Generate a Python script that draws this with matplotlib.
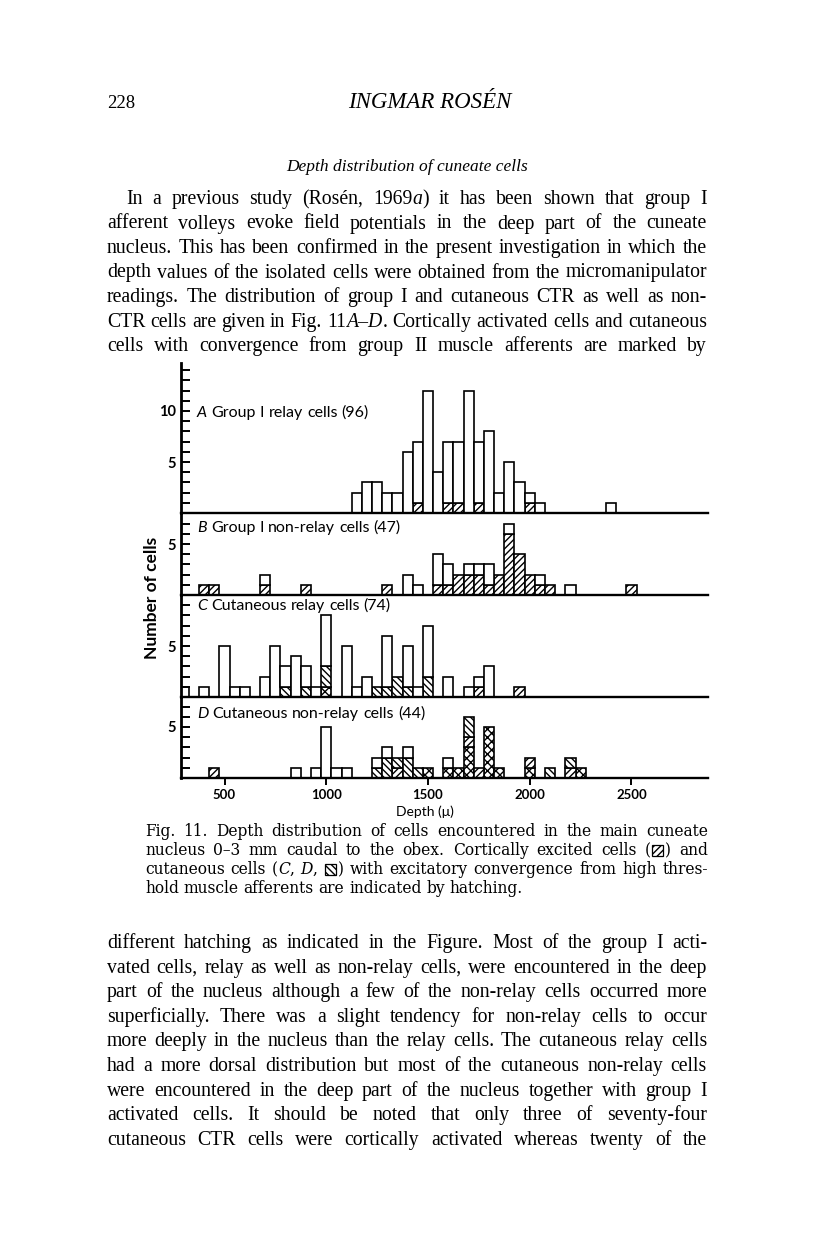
import re
import numpy as np
import matplotlib
matplotlib.use('Agg')
import matplotlib.pyplot as plt
from matplotlib.patches import Rectangle

# depth bins (micron, bin centres, 50 micron wide) and cell counts per hatch class
depth_a = [1150, 1200, 1250, 1300, 1350, 1400, 1450, 1500, 1550, 1600,
           1650, 1700, 1750, 1800, 1850, 1900, 1950, 2000, 2050, 2400]
open_a = [2, 3, 3, 2, 2, 6, 6, 12, 4, 6, 6, 12, 6, 8, 2, 5, 3, 1, 1, 1]
cort_a = [0, 0, 0, 0, 0, 0, 1, 0, 0, 1, 1, 0, 1, 0, 0, 0, 0, 1, 0, 0]

depth_b = [400, 450, 700, 900, 1300, 1400, 1450, 1550, 1600, 1650, 1700,
           1750, 1800, 1850, 1900, 1950, 2000, 2050, 2100, 2200, 2500]
open_b = [0, 0, 1, 0, 0, 2, 1, 3, 2, 0, 1, 1, 2, 0, 1, 0, 0, 1, 0, 1, 0]
cort_b = [1, 1, 1, 1, 1, 0, 0, 1, 1, 2, 2, 2, 1, 2, 6, 4, 2, 1, 1, 0, 1]

depth_c = [300, 400, 500, 550, 600, 700, 750, 800, 850, 900, 950, 1000, 1100,
           1150, 1200, 1250, 1300, 1350, 1400, 1450, 1500, 1600, 1700, 1750, 1800, 1950]
open_c = [1, 1, 5, 1, 1, 2, 5, 2, 4, 2, 1, 5, 5, 1, 2, 0, 5, 0, 4, 1, 5, 2, 1, 1, 3, 0]
conv_c = [0, 0, 0, 0, 0, 0, 0, 1, 0, 1, 0, 2, 0, 0, 0, 1, 1, 2, 1, 0, 2, 0, 0, 0, 0, 0]
cort_c = [0, 0, 0, 0, 0, 0, 0, 0, 0, 0, 0, 0, 0, 0, 0, 0, 0, 0, 0, 0, 0, 0, 0, 1, 0, 1]
both_c = [0, 0, 0, 0, 0, 0, 0, 0, 0, 0, 0, 1, 0, 0, 0, 0, 0, 0, 0, 0, 0, 0, 0, 0, 0, 0]

depth_d = [450, 850, 950, 1000, 1050, 1100, 1250, 1300, 1350, 1400, 1450,
           1500, 1600, 1650, 1700, 1750, 1800, 1850, 2000, 2100, 2200, 2250]
open_d = [0, 1, 1, 5, 1, 1, 1, 1, 0, 1, 0, 0, 1, 0, 0, 0, 0, 0, 0, 0, 0, 0]
conv_d = [0, 0, 0, 0, 0, 0, 1, 2, 1, 2, 1, 0, 0, 0, 2, 0, 0, 0, 0, 1, 1, 0]
cort_d = [1, 0, 0, 0, 0, 0, 0, 0, 1, 0, 0, 0, 0, 0, 1, 1, 0, 0, 1, 0, 1, 0]
both_d = [0, 0, 0, 0, 0, 0, 0, 0, 0, 0, 0, 1, 1, 1, 3, 0, 5, 1, 1, 0, 0, 1]

panel_titles = [('A', 'Group I relay cells (96)'),
                ('B', 'Group I non-relay cells (47)'),
                ('C', 'Cutaneous relay cells (74)'),
                ('D', 'Cutaneous non-relay cells (44)')]
depth_ticks = [500, 1000, 1500, 2000, 2500]

para1 = ["In a previous study (Rosén, 1969_a_) it has been shown that group I",
         "afferent volleys evoke field potentials in the deep part of the cuneate",
         "nucleus. This has been confirmed in the present investigation in which the",
         "depth values of the isolated cells were obtained from the micromanipulator",
         "readings. The distribution of group I and cutaneous CTR as well as non-",
         "CTR cells are given in Fig. 11_A–D_. Cortically activated cells and cutaneous",
         "cells with convergence from group II muscle afferents are marked by"]
caption = ["Fig. 11. Depth distribution of cells encountered in the main cuneate",
           "nucleus 0–3 mm caudal to the obex. Cortically excited cells ([/]) and",
           "cutaneous cells (_C_, _D_, [\\]) with excitatory convergence from high thres-",
           "hold muscle afferents are indicated by hatching."]
para2 = ["different hatching as indicated in the Figure. Most of the group I acti-",
         "vated cells, relay as well as non-relay cells, were encountered in the deep",
         "part of the nucleus although a few of the non-relay cells occurred more",
         "superficially. There was a slight tendency for non-relay cells to occur",
         "more deeply in the nucleus than the relay cells. The cutaneous relay cells",
         "had a more dorsal distribution but most of the cutaneous non-relay cells",
         "were encountered in the deep part of the nucleus together with group I",
         "activated cells. It should be noted that only three of seventy-four",
         "cutaneous CTR cells were cortically activated whereas twenty of the"]

W, H = 816, 1255
plt.rcParams['hatch.linewidth'] = 1.0
SERIF = ['Liberation Serif', 'DejaVu Serif']
CAPF = ['DejaVu Serif']
SANS = ['Lato', 'DejaVu Sans']
HATCH = {'/': '/////', '\\': '\\\\\\\\\\', 'x': 'xxxx'}

fig = plt.figure(figsize=(W / 100, H / 100), dpi=100)
fig.patch.set_facecolor('white')
rend = fig.canvas.get_renderer()


def fx(x):
    return x / W


def fy(y):
    return 1 - y / H


def put(x, y, s, **kw):
    return fig.text(fx(x), fy(y), s, **kw)


def parse_word(w):
    segs, italic = [], False
    for part in re.split(r'(_|\[[/\\]\])', w):
        if part == '_':
            italic = not italic
        elif part in ('[/]', '[\\]'):
            segs.append(('box', part[1]))
        elif part:
            segs.append(('txt', part, italic))
    return segs


def measure(s, size, family, italic=False, weight='normal'):
    t = put(0, 0, s, fontsize=size, family=family, weight=weight,
            style='italic' if italic else 'normal')
    w = t.get_window_extent(rend).width
    t.remove()
    return w


def space_of(size, family):
    return measure('a a', size, family) - measure('aa', size, family)


def natural(line, size, family, box=11):
    total = 0
    words = line.split(' ')
    for w in words:
        for sg in parse_word(w):
            total += box + 3 if sg[0] == 'box' else measure(sg[1], size, family, sg[2])
    return total + space_of(size, family) * (len(words) - 1)


def fit_size(lines, widths, family, box=11):
    # largest size at which every justified line still has normal word spacing
    return min(10 * wd / natural(l, 10, family, box) for l, wd in zip(lines, widths))


def text_line(x0, x1, y, line, size, family, justify=True, box=11, weight='normal'):
    items, widths = [], []
    for w in line.split(' '):
        parts = []
        for sg in parse_word(w):
            if sg[0] == 'box':
                parts.append((None, sg[1], box + 3))
            else:
                t = put(0, y, sg[1], fontsize=size, family=family, weight=weight,
                        style='italic' if sg[2] else 'normal', va='baseline', ha='left')
                parts.append((t, None, t.get_window_extent(rend).width))
        items.append(parts)
        widths.append(sum(p[2] for p in parts))
    space = space_of(size, family)
    gap = space
    if justify and len(items) > 1:
        gap = max((x1 - x0 - sum(widths)) / (len(items) - 1), space * 0.4)
    x = x0
    for parts in items:
        for t, hatch, pw in parts:
            if t is None:
                fig.add_artist(Rectangle((fx(x + 1.5), fy(y + 1)), box / W, box / H,
                                         transform=fig.transFigure, facecolor='white',
                                         edgecolor='black', lw=0.9, hatch=HATCH[hatch]))
            else:
                t.set_x(fx(x))
            x += pw
        x += gap


# page header and body text
put(107, 108, '228', fontsize=13.5, family=SERIF, va='baseline')
put(430, 108, 'INGMAR ROSÉN', fontsize=16.5, family=SERIF, style='italic', ha='center', va='baseline')
put(407, 171, 'Depth distribution of cuneate cells', fontsize=12.5, family=SERIF,
    style='italic', ha='center', va='baseline')

body_size = min(fit_size(para1, [581] + [600] * 6, SERIF), fit_size(para2, [600] * 9, SERIF))
cap_size = fit_size(caption[:3], [563] * 3, CAPF)
for i, line in enumerate(para1):
    text_line(126 if i == 0 else 107, 707, 204 + 24.5 * i, line, body_size, SERIF)
for i, line in enumerate(caption):
    text_line(145, 708, 836 + 19 * i, line, cap_size, CAPF, justify=i < 3)
for i, line in enumerate(para2):
    text_line(107, 707, 948 + 24.6 * i, line, body_size, SERIF)

# histogram panels, stacked with a common unit height
unit = 10.2
left_px, right_px = 181, 708
frames = [(363, 513), (513, 595), (595, 697), (697, 778)]
data = [(depth_a, [(cort_a, '/'), (open_a, None)]),
        (depth_b, [(cort_b, '/'), (open_b, None)]),
        (depth_c, [(both_c, 'x'), (cort_c, '/'), (conv_c, '\\'), (open_c, None)]),
        (depth_d, [(both_d, 'x'), (cort_d, '/'), (conv_d, '\\'), (open_d, None)])]
nticks = [14, 8, 9, 7]
label_y = [417, 532, 610, 718]

for k, ((top, base), (depth, layers)) in enumerate(zip(frames, data)):
    ax = fig.add_axes([fx(left_px), fy(base), (right_px - left_px) / W, (base - top) / H])
    ax.patch.set_visible(False)
    depth = np.array(depth)
    bottom = np.zeros(len(depth))
    for vals, hatch in layers:
        vals = np.array(vals, dtype=float)
        m = vals > 0
        ax.bar(depth[m], vals[m], width=50, bottom=bottom[m], color='white',
               edgecolor='black', linewidth=1.2, hatch=HATCH.get(hatch))
        bottom += vals
    ax.set_xlim(286, 2876)
    ax.set_ylim(0, (base - top) / unit)
    for s in ['top', 'right']:
        ax.spines[s].set_visible(False)
    ax.spines['left'].set_linewidth(2.0)
    ax.spines['bottom'].set_linewidth(1.7)
    yt = list(range(1, nticks[k] + 1))
    ax.set_yticks(yt)
    ax.set_yticklabels([str(v) if v in (5, 10) else '' for v in yt],
                       fontfamily='Lato', fontweight='bold', fontsize=10.5)
    ax.tick_params(axis='y', direction='in', length=6.5, width=1.4, pad=3.5)
    if k < 3:
        ax.tick_params(axis='x', bottom=False, labelbottom=False)
    else:
        ax.set_xticks(depth_ticks)
        ax.set_xticklabels([str(v) for v in depth_ticks], fontfamily='Lato',
                           fontweight='bold', fontsize=9.5)
        ax.tick_params(axis='x', direction='out', length=5, width=1.4, pad=3)
    letter, title = panel_titles[k]
    text_line(197, 700, label_y[k], '_' + letter + '_ ' + title, 11.5, SANS, justify=False)

put(152, 598, 'Number of cells', fontsize=12.5, family=SANS, weight='bold',
    rotation=90, ha='center', va='center')
put(425, 812, 'Depth (μ)', fontsize=10, family=SANS, ha='center', va='center')

fig.savefig('out.png', dpi=100, facecolor='white')
